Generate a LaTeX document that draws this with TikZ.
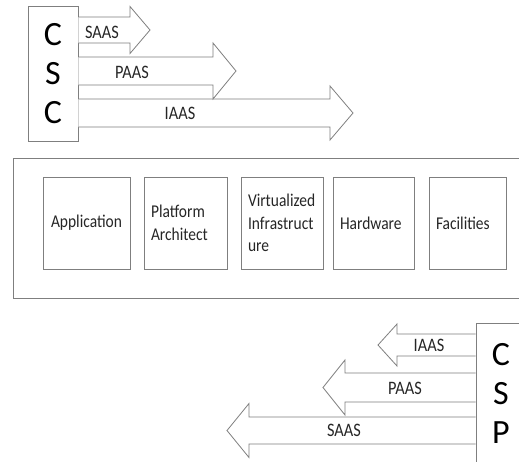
\documentclass[tikz,border=0pt]{standalone}
\usepackage{fontspec}
\setmainfont{Carlito}
\newfontfamily\tallfont{Carlito}[FakeStretch=0.86]
\definecolor{linegray}{HTML}{7F7F7F}
\definecolor{textgray}{HTML}{262626}
\tikzset{
  frame/.style={draw=linegray, line width=0.8pt},
  letterbox/.style={frame, fill=white, minimum width=50pt, align=center,
    font=\fontsize{34}{39}\selectfont},
  layerbox/.style={frame, minimum height=92pt, align=left, inner xsep=7pt,
    text=textgray, font=\tallfont\fontsize{18}{22.5}\selectfont},
  blockarrow/.style={frame, fill=white, line join=miter},
  lbl/.style={text=textgray, font=\tallfont\fontsize{19}{22}\selectfont},
}
% block arrow: start node, centre y, head x, tip x, half shaft, half head
\newcommand\barrow[6]{%
  \draw[blockarrow] (#1 |- 0,{#2-#5}) -- (#3,{#2-#5}) -- (#3,{#2-#6})
    -- (#4,#2) -- (#3,{#2+#6}) -- (#3,{#2+#5}) -- (#1 |- 0,{#2+#5});}
\begin{document}
\begin{tikzpicture}[x=1pt,y=-1pt]
\clip (0,0) rectangle (519,461);
\fill[white] (0,0) rectangle (519,461);

% consumer side
\node[letterbox, minimum height=135pt] (csc) at (53,73.5) {C\\S\\C};
\barrow{csc.east}{113}{330}{353}{14}{27}
\barrow{csc.east}{71}{213}{236}{14}{28}
\barrow{csc.east}{30}{130}{150}{13}{23.5}
\node[lbl] (csaas) at (102,32) {SAAS};
\node[lbl] (cpaas) at (132,72) {PAAS};
\node[lbl] (ciaas) at (180,113) {IAAS};

% layers
\node[frame, minimum width=517pt, minimum height=140pt] (stack) at (271.5,228) {};
\node[layerbox, minimum width=87pt] (app) at (86.5,223) {Application};
\node[layerbox, minimum width=83pt, text width=69pt] (plat) at (185.5,223) {Platform\\Architect};
\node[layerbox, minimum width=82pt, text width=68pt] (virt) at (282,223) {Virtualized\\Infrastruct\\ure};
\node[layerbox, minimum width=81pt, text width=67pt] (hw) at (373.5,223) {Hardware};
\node[layerbox, minimum width=77pt, text width=63pt] (fac) at (467.5,223) {Facilities};

% provider side
\node[letterbox, minimum height=140pt] (csp) at (501,393) {C\\S\\P};
\barrow{csp.west}{430.5}{249}{227}{13.5}{27}
\barrow{csp.west}{387.5}{345}{323}{14.5}{27.5}
\barrow{csp.west}{345}{397}{378}{11}{21}
\node[lbl] (piaas) at (429,345) {IAAS};
\node[lbl] (ppaas) at (405,388) {PAAS};
\node[lbl] (psaas) at (344,430) {SAAS};
\end{tikzpicture}
\end{document}
